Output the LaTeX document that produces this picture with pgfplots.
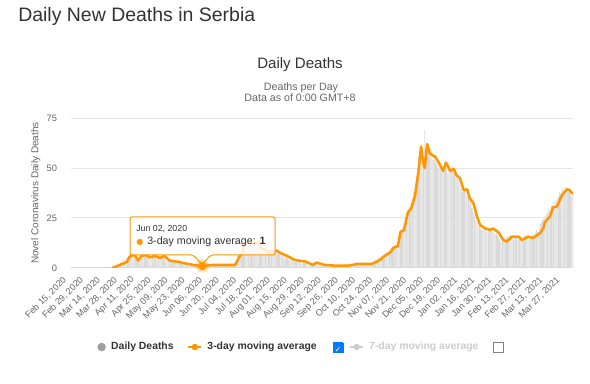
\documentclass[border=0pt]{standalone}
\usepackage{fontspec}
\setmainfont{Liberation Sans}
\newfontfamily\symfont{DejaVu Sans}
\usepackage{pgfplots}
\pgfplotsset{compat=1.18}
\definecolor{hcorange}{RGB}{255,152,0}
\definecolor{hcgrid}{RGB}{230,230,230}
\definecolor{hcaxis}{RGB}{204,214,235}
\definecolor{hctext}{RGB}{102,102,102}
\definecolor{hcdark}{RGB}{51,51,51}
\definecolor{barcol}{RGB}{218,218,218}
\definecolor{cbblue}{RGB}{0,122,255}
\definecolor{legray}{RGB}{204,204,204}
\pgfplotsset{shortleg/.style={legend image code/.code={\draw[mark repeat=2,mark phase=2,##1] plot coordinates {(0cm,0cm)(0.17cm,0cm)(0.34cm,0cm)};}}}
\pgfplotsset{dotleg/.style={legend image code/.code={\fill[gray!75] (0.12cm,0cm) circle (3.2pt);}}}
\newcommand{\cbchecked}{\raisebox{-1.8pt}{\setlength{\fboxsep}{0pt}\setlength{\fboxrule}{0.5pt}\fcolorbox{cbblue}{cbblue}{\makebox[7pt][c]{\rule{0pt}{7pt}\textcolor{white}{\symfont\fontsize{6}{6}\selectfont ✓}}}}}
\newcommand{\cbempty}{\raisebox{-1.8pt}{\setlength{\fboxsep}{0pt}\setlength{\fboxrule}{0.6pt}\fcolorbox{gray}{white}{\makebox[7pt][c]{\rule{0pt}{7pt}}}}}
\begin{document}
\begin{tikzpicture}
\path[use as bounding box] (0,0) rectangle (442.5pt,-288pt);
\begin{axis}[
  at={(53.25pt,-201pt)}, anchor=south west,
  scale only axis, width=376.5pt, height=112.5pt,
  xmin=0, xmax=413, ymin=0, ymax=75,
  separate axis lines,
  axis x line*=bottom, axis y line*=left,
  x axis line style={draw=hcaxis, line width=0.75pt, -},
  y axis line style={draw=none},
  major tick length=0pt,
  ytick={0,25,50,75},
  ymajorgrids, grid style={draw=hcgrid, line width=0.75pt},
  xtick={0,14,...,406},
  xticklabels={{Feb 15, 2020},{Feb 29, 2020},{Mar 14, 2020},{Mar 28, 2020},{Apr 11, 2020},{Apr 25, 2020},{May 09, 2020},{May 23, 2020},{Jun 06, 2020},{Jun 20, 2020},{Jul 04, 2020},{Jul 18, 2020},{Aug 01, 2020},{Aug 15, 2020},{Aug 29, 2020},{Sep 12, 2020},{Sep 26, 2020},{Oct 10, 2020},{Oct 24, 2020},{Nov 07, 2020},{Nov 21, 2020},{Dec 05, 2020},{Dec 19, 2020},{Jan 02, 2021},{Jan 16, 2021},{Jan 30, 2021},{Feb 13, 2021},{Feb 27, 2021},{Mar 13, 2021},{Mar 27, 2021}},
  xticklabel style={yshift=-8pt, xshift=-4.5pt, rotate=45, anchor=east, inner sep=0pt, font=\fontsize{6.8}{8}\selectfont, text=hctext},
  yticklabel style={font=\fontsize{7}{8}\selectfont, text=hctext, xshift=-7pt},
  /pgf/number format/assume math mode=true,
  ylabel={Novel Coronavirus Daily Deaths},
  ylabel style={at={(axis description cs:-0.07,0.5)}, anchor=center, rotate=0, font=\fontsize{7.5}{9}\selectfont, text=hctext},
  legend style={at={(axis description cs:0.044,-0.527)}, anchor=west, draw=none, fill=none,
    legend columns=3, font=\bfseries\fontsize{7.8}{9}\selectfont, text=hcdark,
    /tikz/every odd column/.append style={column sep=2pt},
    /tikz/every even column/.append style={column sep=2.5pt}},
  legend cell align=left,
]
% daily deaths bars
\addplot[ybar, bar width=0.6pt, fill=barcol, draw=none, dotleg] coordinates {
(34,1)(35,0)(36,1)(37,1)(38,2)(39,2)(40,1)(41,3)(42,2)(43,4)
(44,3)(45,2)(46,5)(47,4)(48,7)(49,6)(50,6)(51,7)(52,5)(53,6)
(54,3)(55,4)(56,5)(57,7)(58,6)(59,5)(60,8)(61,6)(62,7)(63,5)
(64,6)(65,5)(66,4)(67,6)(68,7)(69,6)(70,5)(71,6)(72,4)(73,5)
(74,6)(75,5)(76,7)(77,6)(78,4)(79,3)(80,4)(81,3)(82,4)(83,3)
(84,3)(85,4)(86,3)(87,2)(88,3)(89,4)(90,2)(91,3)(92,2)(93,2)
(94,3)(95,2)(96,2)(97,1)(98,2)(99,1)(100,2)(101,1)(102,1)(103,2)
(104,1)(105,1)(106,1)(107,0)(108,1)(109,1)(110,2)(111,1)(112,1)(113,2)
(114,2)(115,1)(116,1)(117,2)(118,1)(119,2)(120,1)(121,1)(122,2)(123,1)
(124,2)(125,1)(126,2)(127,1)(128,1)(129,2)(130,1)(131,2)(132,2)(133,1)
(134,2)(135,3)(136,4)(137,6)(138,7)(139,8)(140,9)(141,10)(142,12)(143,13)
(144,14)(145,12)(146,13)(147,15)(148,11)(149,12)(150,13)(151,14)(152,12)(153,11)
(154,12)(155,13)(156,10)(157,9)(158,11)(159,8)(160,9)(161,7)(162,8)(163,10)
(164,9)(165,8)(166,9)(167,10)(168,8)(169,9)(170,7)(171,8)(172,7)(173,6)
(174,6)(175,7)(176,5)(177,6)(178,5)(179,4)(180,5)(181,4)(182,4)(183,3)
(184,4)(185,3)(186,4)(187,3)(188,3)(189,4)(190,2)(191,3)(192,3)(193,2)
(194,2)(195,1)(196,2)(197,1)(198,2)(199,3)(200,2)(201,3)(202,2)(203,1)
(204,2)(205,1)(206,2)(207,1)(208,1)(209,2)(210,1)(211,1)(212,2)(213,1)
(214,1)(215,1)(216,2)(217,1)(218,0)(219,1)(220,2)(221,1)(222,1)(223,1)
(224,1)(225,2)(226,1)(227,1)(228,2)(229,1)(230,2)(231,2)(232,1)(233,2)
(234,2)(235,3)(236,2)(237,1)(238,2)(239,2)(240,3)(241,2)(242,2)(243,1)
(244,2)(245,2)(246,3)(247,2)(248,3)(249,3)(250,4)(251,3)(252,4)(253,5)
(254,4)(255,5)(256,6)(257,5)(258,7)(259,6)(260,8)(261,7)(262,9)(263,8)
(264,10)(265,9)(266,11)(267,12)(268,10)(269,13)(270,17)(271,19)(272,18)(273,20)
(274,22)(275,25)(276,27)(277,29)(278,30)(279,28)(280,33)(281,35)(282,38)(283,40)
(284,44)(285,50)(286,56)(287,59)(288,62)(289,55)(290,50)(291,69)(292,60)(293,61)
(294,58)(295,56)(296,57)(297,55)(298,54)(299,56)(300,53)(301,52)(302,50)(303,52)
(304,49)(305,48)(306,51)(307,53)(308,52)(309,50)(310,47)(311,49)(312,48)(313,50)
(314,51)(315,48)(316,47)(317,46)(318,45)(319,44)(320,42)(321,40)(322,38)(323,39)
(324,40)(325,38)(326,36)(327,35)(328,34)(329,33)(330,30)(331,28)(332,26)(333,24)
(334,23)(335,21)(336,22)(337,20)(338,19)(339,21)(340,20)(341,19)(342,18)(343,19)
(344,19)(345,20)(346,19)(347,18)(348,19)(349,17)(350,18)(351,16)(352,15)(353,14)
(354,13)(355,14)(356,13)(357,14)(358,15)(359,16)(360,15)(361,16)(362,15)(363,16)
(364,14)(365,15)(366,16)(367,15)(368,14)(369,15)(370,16)(371,15)(372,14)(373,16)
(374,15)(375,16)(376,15)(377,16)(378,15)(379,16)(380,17)(381,16)(382,18)(383,19)
(384,18)(385,20)(386,22)(387,23)(388,24)(389,25)(390,26)(391,27)(392,28)(393,30)
(394,29)(395,31)(396,32)(397,30)(398,33)(399,34)(400,35)(401,36)(402,38)(403,37)
(404,39)(405,40)(406,38)(407,41)(408,39)(409,38)(410,40)(411,37)(412,36)(413,37)
};
\addlegendentry{Daily Deaths\rule{6pt}{0pt}}
% 3-day moving average
\addplot[forget plot, hcorange, line width=1.9pt, line join=round, mark=none] coordinates {
(34,0)(36,0.5)(40,1.5)(42,2)(46,3)(48,5.5)(51,6.5)(53,6)(55,3.7)(58,6)(61,6.5)(65,5.3)(69,6)(73,5)(77,6)(81,3.7)(87,3.2)(94,2.3)(101,1.5)(108,1)(116,1.5)(127,1.5)(135,1.5)(138,5)(140.5,7.3)(143,11.5)(146,13)(149,12.5)(154,12.5)(157,10)(162,8)(169,8.7)(173,7.3)(179,5.7)(184,4)(193,3.2)(199,1.5)(202,2.7)(209,1.5)(217,1.2)(228,1.2)(236,2)(247,2)(251,3)(254,4)(257,5.6)(263,8)(265,10)(269,11)(271,18)(274,19)(277,27.5)(280,30)(283,36)(286,49)(288,60.7)(290,52)(291,50)(293,62)(295.5,57)(299.6,55.7)(303.7,51.5)(306,48.5)(308.6,52.7)(312,48.5)(315,49.6)(317,46.5)(320,45)(323,39)(326,39.3)(328,35)(331,32.5)(334,25.7)(336.6,21.5)(340.7,19.8)(345,19)(347,19.8)(351.5,18)(355.6,14)(358.6,13.2)(362.7,15.7)(368,15.7)(371,14)(376,15.7)(380,15)(386,17.5)(388.6,19.8)(390,23)(394,25.7)(396.5,30.3)(399.7,30.7)(404,36.5)(408,39.3)(410,39)(413,37)
};
% tooltip
\draw[hcorange, line width=0.75pt, fill=white, fill opacity=0.8, rounded corners=1.5pt]
  (axis cs:48.6,25.5) -- (axis cs:167.9,25.5) -- (axis cs:167.9,6.5) -- (axis cs:115,6.5) -- (axis cs:107.8,1.8) -- (axis cs:100.6,6.5) -- (axis cs:48.6,6.5) -- cycle;
\node[anchor=base west, font=\fontsize{6.6}{8}\selectfont, text=hcdark, inner sep=0pt] at (axis cs:53.5,18.3) {Jun 02, 2020};
\node[anchor=base west, font=\fontsize{8}{9}\selectfont, text=hcdark, inner sep=0pt] at (axis cs:53.5,11.5) {\textcolor{hcorange}{\symfont\fontsize{6}{6}\selectfont ●}\hspace{3pt}3-day moving average: \textbf{1}};
% hover marker
\addplot[forget plot, only marks, mark=*, mark size=5pt, color=hcorange, fill opacity=0.3, draw opacity=0] coordinates {(108,1)};
\addplot[forget plot, only marks, mark=*, mark size=3pt, color=hcorange] coordinates {(108,1)};
% legend images
\addlegendimage{hcorange, line width=1.2pt, mark=*, mark size=1.8pt, shortleg}
\addlegendentry{3-day moving average\hspace{12pt}\cbchecked}
\addlegendimage{legray, line width=1.2pt, mark=*, mark size=1.8pt, shortleg}
\addlegendentry{\textcolor{legray}{7-day moving average}\hspace{11pt}\cbempty}
\end{axis}
\begin{scope}[x=0.75pt, y=-0.75pt]
\node[anchor=base west, inner sep=0pt, font=\fontsize{14.6}{17}\selectfont, text=hcdark] at (18,22) {Daily New Deaths in Serbia};
\node[anchor=base, inner sep=0pt, font=\fontsize{11.3}{13}\selectfont, text=hcdark] at (300,69) {Daily Deaths};
\node[anchor=base, inner sep=0pt, font=\fontsize{8}{9}\selectfont, text=hctext] at (301,91) {Deaths per Day};
\node[anchor=base, inner sep=0pt, font=\fontsize{8}{9}\selectfont, text=hctext] at (300,102) {Data as of 0:00 GMT+8};
\end{scope}
\end{tikzpicture}
\end{document}
